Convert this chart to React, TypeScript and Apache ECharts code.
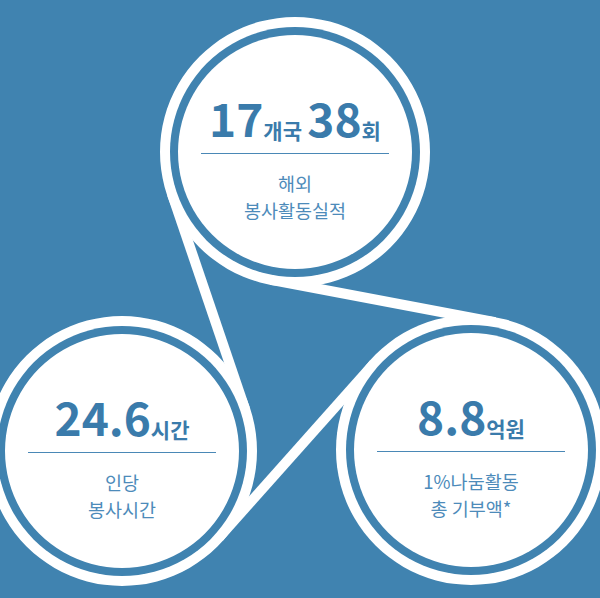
import React, { useEffect, useRef } from "react";
import * as echarts from "echarts";

// ---- data ----
const bigNumbers: string[][] = [["17", "38"], ["24.6"], ["8.8"]];
const units: string[][] = [["개국", "회"], ["시간"], ["억원"]];
const captionLine1: string[] = ["해외", "인당", "1%나눔활동"];
const captionLine2: string[] = ["봉사활동실적", "봉사시간", "총 기부액*"];

// ---- layout ----
const W = 600;
const H = 598;
const BG = "#4083b0";
const NUM_COLOR = "#3a7bab";
const CAP_COLOR = "#4d8bba";
const LINE_COLOR = "#4a88b6";
const centers: [number, number][] = [
  [295, 152],
  [122, 451],
  [471, 450],
];
const R_OUT = 135;
const R_BLUE = 125;
const R_DISK = 117;
const R_BELT = 130;
const BELT_W = 10;
const FONT = "'Noto Sans CJK KR', 'Noto Sans', sans-serif";

function tangent(a: [number, number], b: [number, number]) {
  const dx = b[0] - a[0];
  const dy = b[1] - a[1];
  const d = Math.hypot(dx, dy);
  const ux = dx / d;
  const uy = dy / d;
  const al = -Math.asin((2 * R_BELT) / d);
  const vx = ux * Math.cos(al) - uy * Math.sin(al);
  const vy = ux * Math.sin(al) + uy * Math.cos(al);
  const mx = (a[0] + b[0]) / 2;
  const my = (a[1] + b[1]) / 2;
  const h = (d / 2) * Math.cos(al);
  return { x1: mx - h * vx, y1: my - h * vy, x2: mx + h * vx, y2: my + h * vy };
}

export default function App() {
  const ref = useRef<HTMLDivElement>(null);
  useEffect(() => {
    if (!ref.current) return;
    const chart = echarts.init(ref.current, null, { renderer: "svg" });
    const elements: any[] = [];
    const pairs: [number, number][] = [
      [0, 1],
      [0, 2],
      [1, 2],
    ];
    pairs.forEach(([i, j]) => {
      elements.push({
        type: "line",
        shape: tangent(centers[i], centers[j]),
        style: { stroke: "#ffffff", lineWidth: BELT_W },
      });
    });
    centers.forEach(([cx, cy], k) => {
      elements.push({ type: "circle", shape: { cx, cy, r: R_OUT }, style: { fill: "#ffffff" } });
      elements.push({ type: "circle", shape: { cx, cy, r: R_BLUE }, style: { fill: BG } });
      elements.push({ type: "circle", shape: { cx, cy, r: R_DISK }, style: { fill: "#ffffff" } });
      const parts = bigNumbers[k]
        .map((n, idx) => `{n|${n}}{u|${units[k][idx]}}`)
        .join("{s|  }");
      elements.push({
        type: "text",
        x: cx,
        y: cy - 35,
        style: {
          text: parts,
          align: "center",
          verticalAlign: "middle",
          rich: {
            n: {
              fontSize: 46,
              fontWeight: "bold",
              fontFamily: FONT,
              fill: NUM_COLOR,
              lineHeight: 46,
              verticalAlign: "bottom",
            },
            u: {
              fontSize: 21,
              fontWeight: "bold",
              fontFamily: FONT,
              fill: NUM_COLOR,
              lineHeight: 29,
              verticalAlign: "bottom",
            },
            s: { fontSize: 12, fontFamily: FONT, lineHeight: 29, verticalAlign: "bottom" },
          },
        },
      });
      elements.push({
        type: "line",
        shape: { x1: cx - 94, y1: cy + 1.5, x2: cx + 94, y2: cy + 1.5 },
        style: { stroke: LINE_COLOR, lineWidth: 1 },
      });
      elements.push({
        type: "text",
        x: cx,
        y: cy + 44,
        style: {
          text: captionLine1[k] + "\n" + captionLine2[k],
          align: "center",
          verticalAlign: "middle",
          fontSize: 18.5,
          lineHeight: 27,
          fontWeight: 400,
          fontFamily: FONT,
          fill: CAP_COLOR,
        },
      });
    });
    chart.setOption({
      animation: false,
      backgroundColor: BG,
      graphic: { elements },
    });
    return () => chart.dispose();
  }, []);
  return (
    <div
      ref={ref}
      style={{ position: "fixed", left: 0, top: 0, width: W, height: H }}
    />
  );
}
